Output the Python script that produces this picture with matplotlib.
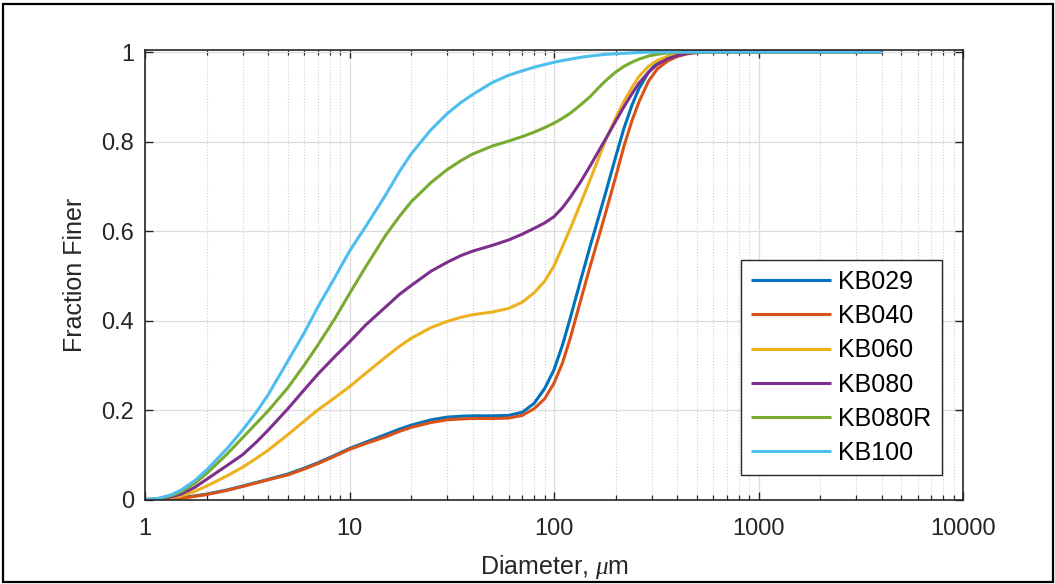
import matplotlib
matplotlib.use("Agg")
import matplotlib.pyplot as plt
from matplotlib.ticker import FixedLocator, LogLocator, NullFormatter
from matplotlib.patches import Rectangle

plt.rcParams['font.family'] = ['Liberation Sans', 'DejaVu Sans']
plt.rcParams['mathtext.fontset'] = 'custom'
plt.rcParams['mathtext.it'] = 'Liberation Serif:italic'

diameter = [1, 1.1, 1.2, 1.35, 1.5, 1.75, 2, 2.5, 3, 3.5, 4, 5, 6, 7, 8.5, 10, 12, 15,
            17.5, 20, 25, 30, 35, 40, 50, 60, 70, 80, 90, 100, 110, 120, 135, 150, 165,
            180, 200, 220, 240, 260, 290, 320, 360, 400, 450, 500, 600, 700, 1000, 4000]

kb029 = [0, 0.0002, 0.0008, 0.002, 0.004, 0.008, 0.012, 0.021, 0.03, 0.038, 0.045, 0.057,
         0.07, 0.082, 0.099, 0.114, 0.128, 0.145, 0.157, 0.166, 0.178, 0.184, 0.186, 0.187,
         0.187, 0.188, 0.195, 0.215, 0.248, 0.29, 0.345, 0.405, 0.49, 0.565, 0.63, 0.69,
         0.765, 0.83, 0.88, 0.918, 0.955, 0.977, 0.99, 0.996, 0.999, 1, 1, 1, 1, 1]
kb040 = [0, 0, 0.0003, 0.0015, 0.003, 0.007, 0.011, 0.02, 0.029, 0.037, 0.044, 0.055,
         0.068, 0.08, 0.097, 0.112, 0.125, 0.14, 0.152, 0.161, 0.172, 0.178, 0.18, 0.181,
         0.181, 0.182, 0.188, 0.203, 0.225, 0.26, 0.305, 0.36, 0.445, 0.52, 0.585, 0.645,
         0.72, 0.79, 0.845, 0.888, 0.935, 0.962, 0.98, 0.99, 0.996, 0.999, 1, 1, 1, 1]
kb060 = [0, 0.0003, 0.001, 0.004, 0.008, 0.018, 0.03, 0.052, 0.072, 0.092, 0.11, 0.145,
         0.175, 0.2, 0.228, 0.252, 0.282, 0.318, 0.342, 0.36, 0.384, 0.398, 0.407, 0.413,
         0.419, 0.427, 0.441, 0.462, 0.488, 0.522, 0.565, 0.605, 0.662, 0.714, 0.762, 0.806,
         0.852, 0.89, 0.92, 0.945, 0.968, 0.981, 0.99, 0.995, 0.998, 1, 1, 1, 1, 1]
kb080 = [0, 0.0005, 0.002, 0.006, 0.012, 0.027, 0.045, 0.075, 0.10, 0.128, 0.155, 0.203,
         0.245, 0.28, 0.32, 0.352, 0.39, 0.43, 0.458, 0.478, 0.51, 0.53, 0.545, 0.555,
         0.568, 0.58, 0.593, 0.606, 0.618, 0.632, 0.652, 0.675, 0.71, 0.745, 0.778, 0.808,
         0.845, 0.878, 0.906, 0.93, 0.955, 0.972, 0.985, 0.992, 0.997, 0.999, 1, 1, 1, 1]
kb080r = [0, 0.001, 0.003, 0.009, 0.017, 0.036, 0.058, 0.10, 0.138, 0.17, 0.198, 0.25,
          0.30, 0.345, 0.405, 0.46, 0.52, 0.59, 0.632, 0.665, 0.708, 0.737, 0.757, 0.772,
          0.79, 0.801, 0.811, 0.821, 0.831, 0.841, 0.852, 0.863, 0.882, 0.90, 0.92, 0.937,
          0.955, 0.968, 0.977, 0.984, 0.991, 0.995, 0.998, 0.999, 1, 1, 1, 1, 1, 1]
kb100 = [0, 0.001, 0.004, 0.011, 0.021, 0.042, 0.066, 0.112, 0.155, 0.195, 0.234, 0.31,
         0.372, 0.43, 0.497, 0.555, 0.61, 0.68, 0.732, 0.772, 0.826, 0.862, 0.887, 0.905,
         0.932, 0.948, 0.958, 0.966, 0.972, 0.977, 0.981, 0.984, 0.988, 0.991, 0.993,
         0.995, 0.996, 0.997, 0.998, 0.999, 0.9995, 1, 1, 1, 1, 1, 1, 1, 1, 1]

series_names = ['KB029', 'KB040', 'KB060', 'KB080', 'KB080R', 'KB100']
series_values = [kb029, kb040, kb060, kb080, kb080r, kb100]
colors = ['#0072BD', '#D95319', '#EDB120', '#7E2F8E', '#77AC30', '#4DBEEE']

x_ticks = [1, 10, 100, 1000, 10000]
x_tick_labels = ['1', '10', '100', '1000', '10000']
y_ticks = [0, 0.2, 0.4, 0.6, 0.8, 1]
y_tick_labels = ['0', '0.2', '0.4', '0.6', '0.8', '1']

W, H = 1055, 584
fig = plt.figure(figsize=(W / 100, H / 100), dpi=100)
ax = fig.add_axes([145 / W, 1 - 499.5 / H, (963 - 145) / W, (499.5 - 49.5) / H])

for name, vals, c in zip(series_names, series_values, colors):
    ax.plot(diameter, vals, color=c, lw=2.2, label=name,
            solid_joinstyle='round', solid_capstyle='butt')

ax.set_xscale('log')
ax.set_xlim(1, 10000)
ax.set_ylim(0, 1.0056)
ax.xaxis.set_major_locator(FixedLocator(x_ticks))
ax.set_xticklabels(x_tick_labels)
ax.xaxis.set_minor_locator(LogLocator(base=10, subs=range(2, 10), numticks=20))
ax.xaxis.set_minor_formatter(NullFormatter())
ax.set_yticks(y_ticks)
ax.set_yticklabels(y_tick_labels)

ax.grid(True, which='major', color='#dcdcdc', lw=0.9, ls='-')
ax.grid(True, which='minor', axis='x', color='#d0d0d0', lw=0.8, ls=':')
ax.set_axisbelow(True)

for s in ax.spines.values():
    s.set_color('#262626')
    s.set_linewidth(1.2)
ax.tick_params(which='both', direction='in', top=True, right=True, colors='#262626',
               labelsize=17, labelcolor='#262626')
ax.tick_params(which='major', length=6, width=1)
ax.tick_params(which='minor', length=3.5, width=0.9)
ax.tick_params(axis='x', pad=13)
ax.tick_params(axis='y', pad=8)

ax.set_xlabel(r'Diameter, $\mu$m', fontsize=18, color='#262626', labelpad=10)
ax.set_ylabel('Fraction Finer', fontsize=18, color='#262626', labelpad=10)

leg = ax.legend(loc='lower right', bbox_to_anchor=(0.974, 0.054), fontsize=18,
                frameon=True, fancybox=False, edgecolor='#262626', framealpha=1,
                handlelength=3.2, handletextpad=0.3, labelspacing=0.41,
                borderpad=0.4, borderaxespad=0)
leg.get_frame().set_linewidth(1.0)

fig.patches.append(Rectangle((3 / W, 2 / H), (W - 5) / W, (H - 6) / H,
                             transform=fig.transFigure, fill=False,
                             edgecolor='black', lw=1.6))

fig.savefig('out.png', dpi=100)
